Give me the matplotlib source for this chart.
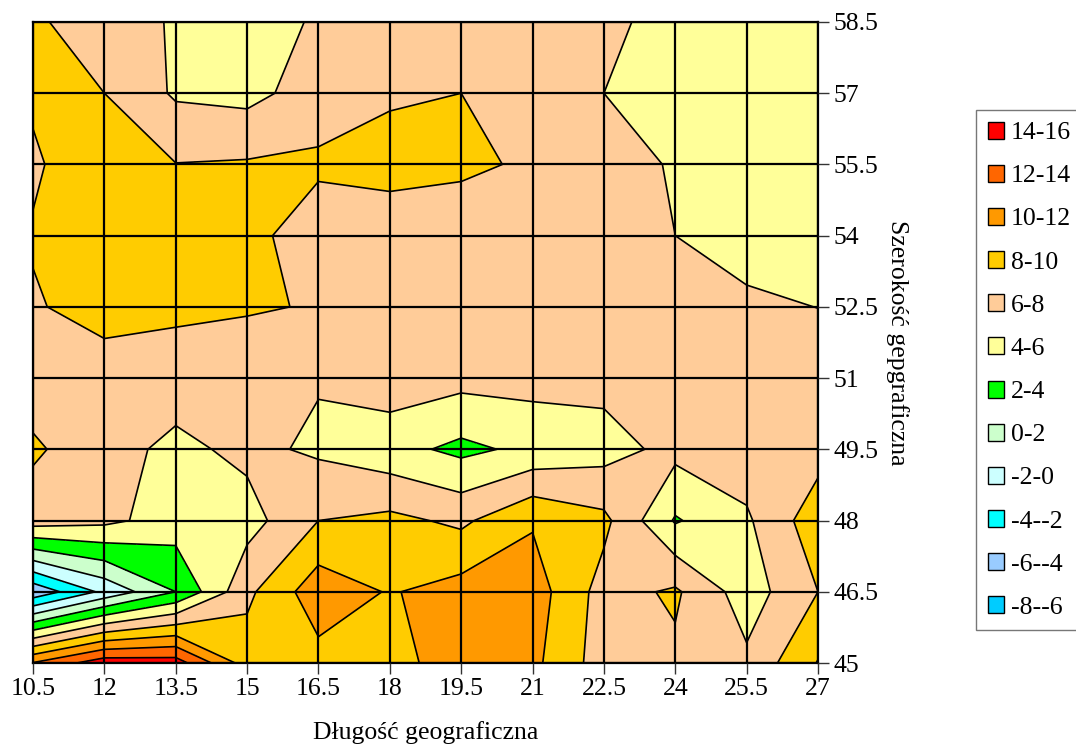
import numpy as np
import matplotlib.pyplot as plt
from matplotlib.patches import Patch

plt.rcParams['font.family'] = ['Liberation Serif', 'DejaVu Serif']

# Grid coordinates
lon = [10.5, 12, 13.5, 15, 16.5, 18, 19.5, 21, 22.5, 24, 25.5, 27]
lat = [45, 46.5, 48, 49.5, 51, 52.5, 54, 55.5, 57, 58.5]

# values, one row per latitude (bottom to top)
row_45 = [12.1, 15.2, 15.0, 9.0, 9.3, 9.3, 11.0, 10.5, 7.0, 7.6, 6.4, 10.1]
row_465 = [-5.5, -1.5, 2.0, 7.55, 11.2, 9.85, 10.8, 11.0, 7.2, 8.3, 5.0, 8.0]
row_48 = [7.0, 6.5, 5.08, 5.2, 8.0, 8.5, 7.6, 9.8, 8.5, 3.8, 5.7, 9.2]
row_495 = [8.3, 6.78, 5.5, 6.49, 5.67, 4.7, 3.5, 4.5, 5.2, 6.6, 7.1, 7.2]
row_51 = [7.0, 7.0, 7.0, 7.0, 6.14, 7.2, 6.66, 6.74, 6.6, 7.0, 7.0, 7.0]
row_525 = [7.8, 8.8, 8.4, 8.15, 7.9, 7.0, 7.0, 7.0, 7.0, 6.8, 6.31, 5.98]
row_54 = [8.17, 9.5, 9.3, 8.6, 6.92, 7.02, 7.05, 7.0, 7.0, 6.0, 5.3, 5.3]
row_555 = [7.7, 9.5, 8.05, 8.2, 8.34, 8.6, 8.3, 7.78, 7.0, 5.78, 5.0, 5.0]
row_57 = [8.3, 8.0, 5.73, 5.38, 6.97, 7.8, 8.0, 7.5, 6.0, 5.0, 5.0, 5.0]
row_585 = [8.45, 6.5, 5.9, 5.2, 6.2, 7.0, 7.0, 7.0, 6.5, 5.22, 5.0, 5.0]

levels = [-8, -6, -4, -2, 0, 2, 4, 6, 8, 10, 12, 14, 16]
labels = ['-8--6', '-6--4', '-4--2', '-2-0', '0-2', '2-4', '4-6',
          '6-8', '8-10', '10-12', '12-14', '14-16']
colors = ['#00CCFF', '#99CCFF', '#00FFFF', '#CCFFFF', '#CCFFCC', '#00FF00',
          '#FFFF99', '#FFCC99', '#FFCC00', '#FF9900', '#FF6600', '#FF0000']

Z = np.array([row_45, row_465, row_48, row_495, row_51, row_525,
              row_54, row_555, row_57, row_585])
X, Y = np.meshgrid(lon, lat)

fig = plt.figure(figsize=(10.76, 7.53), dpi=100)
ax = fig.add_axes([33 / 1076, 90 / 753, 785 / 1076, 641 / 753])

ax.contourf(X, Y, Z, levels=levels, colors=colors)
ax.contour(X, Y, Z, levels=levels, colors='black', linewidths=1.2,
           linestyles='solid')

ax.set_xlim(10.5, 27)
ax.set_ylim(45, 58.5)
ax.set_xticks(lon)
ax.set_xticklabels(['10.5', '12', '13.5', '15', '16.5', '18', '19.5', '21',
                    '22.5', '24', '25.5', '27'])
ax.set_yticks(lat)
ax.set_yticklabels(['45', '46.5', '48', '49.5', '51', '52.5', '54', '55.5',
                    '57', '58.5'])
ax.yaxis.tick_right()
ax.yaxis.set_label_position('right')
ax.tick_params(axis='both', labelsize=18.5, length=8, width=1, color='#333333',
               direction='out', pad=3)
ax.grid(True, color='black', linewidth=1.6)
ax.set_axisbelow(False)
for sp in ax.spines.values():
    sp.set_linewidth(1.6)

ax.set_xlabel('Długość geograficzna', fontsize=18.5, labelpad=15)
ax.set_ylabel('Szerokość gepgraficzna', fontsize=18.5, rotation=270, labelpad=22)

handles = [Patch(facecolor=c, edgecolor='black', label=l)
           for c, l in zip(colors[::-1], labels[::-1])]
fig.legend(handles=handles, loc='upper left', bbox_to_anchor=(976 / 1076, 1 - 110 / 753),
           fontsize=18.5, frameon=True, fancybox=False, edgecolor='#555555',
           handlelength=0.65, handleheight=0.65, handletextpad=0.25,
           labelspacing=0.8, borderpad=0.45, borderaxespad=0)

fig.savefig('out.png', dpi=100)
